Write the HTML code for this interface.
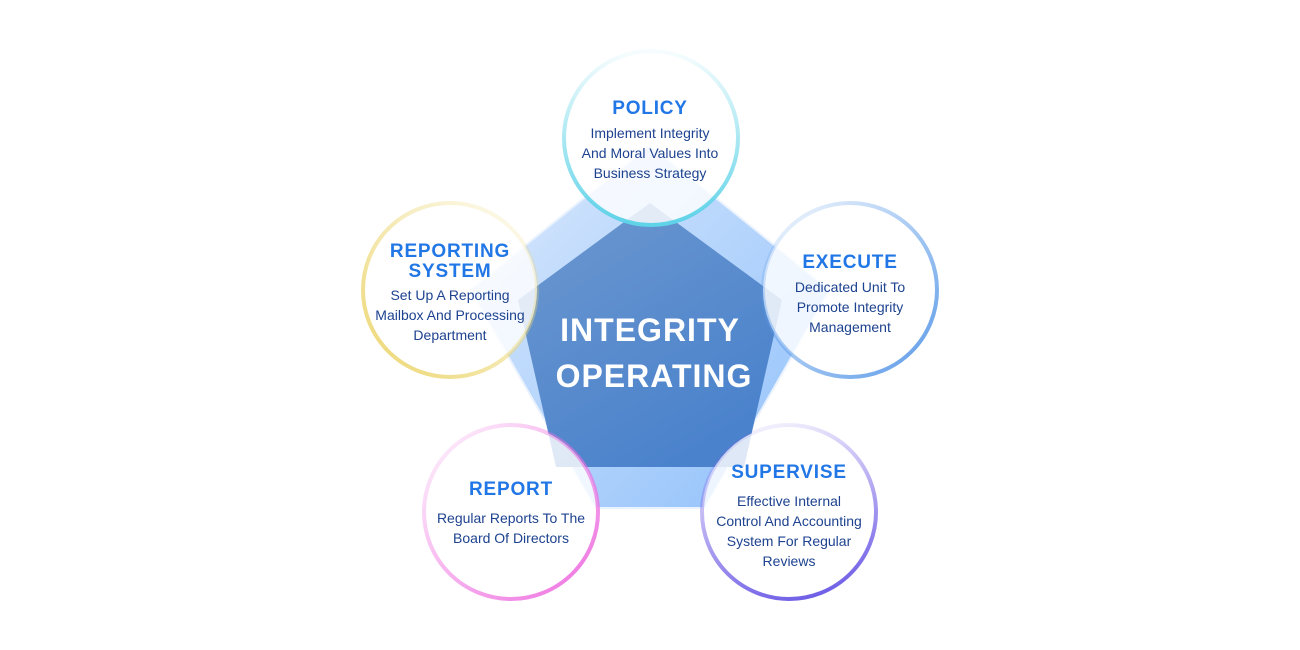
<!DOCTYPE html>
<html><head><meta charset="utf-8"><style>
html,body{margin:0;padding:0;background:#fff;width:1300px;height:650px;overflow:hidden}
svg text{font-family:"Liberation Sans",sans-serif}
.t{font-weight:bold;font-size:19px;fill:#2277e6;letter-spacing:0.8px}
.b{font-size:14px;fill:#1d428f}
</style></head><body>
<svg width="1300" height="650" viewBox="0 0 1300 650" xmlns="http://www.w3.org/2000/svg">
<defs>
<linearGradient id="outer" x1="0" y1="0" x2="1" y2="1">
<stop offset="0" stop-color="#dbe9fc"/><stop offset="1" stop-color="#8fc0fb"/></linearGradient>
<linearGradient id="inner" x1="0" y1="0" x2="0.6" y2="1">
<stop offset="0" stop-color="#6d98cf"/><stop offset="1" stop-color="#4a82cc"/></linearGradient>
<linearGradient id="gP" x1="0" y1="0" x2="0" y2="1"><stop offset="0" stop-color="#5fd3e8" stop-opacity="0.05"/><stop offset="1" stop-color="#5fd3e8"/></linearGradient>
<linearGradient id="gR" x1="1" y1="0" x2="0" y2="1"><stop offset="0" stop-color="#ecd670" stop-opacity="0.05"/><stop offset="1" stop-color="#ecd670"/></linearGradient>
<linearGradient id="gE" x1="0" y1="0" x2="1" y2="1"><stop offset="0" stop-color="#5b9ae8" stop-opacity="0.05"/><stop offset="1" stop-color="#5b9ae8"/></linearGradient>
<linearGradient id="gD" x1="0" y1="0" x2="1" y2="1"><stop offset="0" stop-color="#ee6ee0" stop-opacity="0.05"/><stop offset="1" stop-color="#ee6ee0"/></linearGradient>
<linearGradient id="gS" x1="0.3" y1="0" x2="0.6" y2="1"><stop offset="0" stop-color="#7a62e8" stop-opacity="0.08"/><stop offset="1" stop-color="#7060e6"/></linearGradient>
</defs>
<polygon points="650,145 830,290 705,508 595,508 470,290" fill="url(#outer)" stroke="#eaf2fd" stroke-width="2" stroke-linejoin="round"/>
<polygon points="650,203 782,300 744,467 556,467 518,300" fill="url(#inner)"/>
<g fill="#ffffff" fill-opacity="0.82" stroke-width="4">
<circle cx="651" cy="138" r="87" stroke="url(#gP)"/>
<circle cx="450" cy="290" r="87" stroke="url(#gR)"/>
<circle cx="850" cy="290" r="87" stroke="url(#gE)"/>
<circle cx="511" cy="512" r="87" stroke="url(#gD)"/>
<circle cx="789" cy="512" r="87" stroke="url(#gS)"/>
</g>
<g text-anchor="middle">
<text x="650" y="341" font-size="32" font-weight="bold" fill="#fff" letter-spacing="1">INTEGRITY</text>
<text x="654" y="387" font-size="32" font-weight="bold" fill="#fff" letter-spacing="1">OPERATING</text>
<text class="t" x="650" y="114">POLICY</text>
<text class="b" x="650" y="138">Implement Integrity</text>
<text class="b" x="650" y="158">And Moral Values Into</text>
<text class="b" x="650" y="178">Business Strategy</text>
<text class="t" x="450" y="257">REPORTING</text>
<text class="t" x="450" y="277">SYSTEM</text>
<text class="b" x="450" y="300">Set Up A Reporting</text>
<text class="b" x="450" y="320">Mailbox And Processing</text>
<text class="b" x="450" y="340">Department</text>
<text class="t" x="850" y="268">EXECUTE</text>
<text class="b" x="850" y="292">Dedicated Unit To</text>
<text class="b" x="850" y="312">Promote Integrity</text>
<text class="b" x="850" y="332">Management</text>
<text class="t" x="511" y="495">REPORT</text>
<text class="b" x="511" y="523">Regular Reports To The</text>
<text class="b" x="511" y="543">Board Of Directors</text>
<text class="t" x="789" y="478">SUPERVISE</text>
<text class="b" x="789" y="506">Effective Internal</text>
<text class="b" x="789" y="526">Control And Accounting</text>
<text class="b" x="789" y="546">System For Regular</text>
<text class="b" x="789" y="566">Reviews</text>
</g>
</svg>
</body></html>
